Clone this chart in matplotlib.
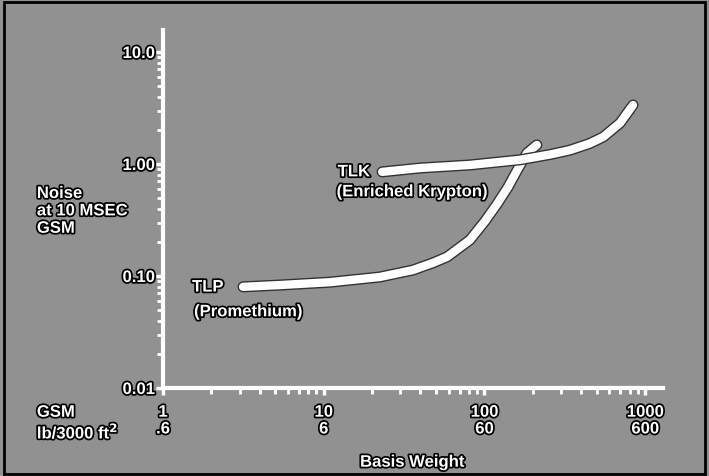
import matplotlib
matplotlib.use("Agg")
import matplotlib.pyplot as plt
import matplotlib.patheffects as pe

# TLP (Promethium) curve
tlp_x = [3.15, 5.35, 10.9, 22.4, 35.9, 47.9, 58.5, 81.3, 101, 120, 140, 160, 184, 212]
tlp_y = [0.080, 0.083, 0.088, 0.098, 0.113, 0.131, 0.148, 0.21, 0.31, 0.44, 0.62, 0.88, 1.25, 1.48]

# TLK (Enriched Krypton) curve
tlk_x = [23.1, 39.7, 81.4, 167, 260, 341, 450, 548, 698, 841]
tlk_y = [0.85, 0.92, 0.98, 1.09, 1.22, 1.33, 1.52, 1.74, 2.32, 3.36]

y_ticks = [0.01, 0.1, 1.0, 10.0]
y_labels = ["0.01", "0.10", "1.00", "10.0"]
x_ticks = [1, 10, 100, 1000]
x_labels = ["1\n.6", "10\n6", "100\n60", "1000\n600"]

bg = "#919191"
outline = [pe.withStroke(linewidth=2.5, foreground="black")]

plt.rcParams['font.family'] = ['Liberation Sans', 'DejaVu Sans']
plt.rcParams['font.weight'] = 'bold'

fig = plt.figure(figsize=(7.09, 4.76), dpi=100, facecolor=bg)
fig.patches.append(plt.Rectangle((0.005, 0.005), 0.99, 0.99, transform=fig.transFigure,
                                 fill=False, edgecolor="black", linewidth=2))
ax = fig.add_axes([0.2299, 0.1849, 0.7052, 0.752], facecolor=bg)

ax.set_xscale("log")
ax.set_yscale("log")
ax.set_xlim(1, 1292)
ax.set_ylim(0.01, 15.7)

# curves: white with a thin dark edge
for xs, ys in [(tlp_x, tlp_y), (tlk_x, tlk_y)]:
    ax.plot(xs, ys, color="white", lw=6, solid_capstyle="round", solid_joinstyle="round",
            path_effects=[pe.Stroke(linewidth=8, foreground="#333333"), pe.Normal()])

for s in ["top", "right"]:
    ax.spines[s].set_visible(False)
for s in ["left", "bottom"]:
    ax.spines[s].set_color("white")
    ax.spines[s].set_linewidth(3)

ax.set_yticks(y_ticks)
ax.set_yticklabels(y_labels)
ax.set_xticks(x_ticks)
ax.set_xticklabels(x_labels, linespacing=1.15)
ax.tick_params(which="major", direction="out", length=5, width=2.5, colors="white",
               labelsize=12, pad=1)
ax.tick_params(which="minor", direction="out", length=4, width=2, colors="white")
ax.tick_params(axis="x", which="major", pad=7)
for lab in ax.get_xticklabels() + ax.get_yticklabels():
    lab.set_path_effects(outline)
    lab.set_fontweight("bold")

txt = dict(color="white", fontsize=12, fontweight="bold", path_effects=outline)
fig.text(0.499, 0.639, "TLK", ha="center", va="center", **txt)
fig.text(0.581, 0.597, "(Enriched Krypton)", ha="center", va="center", **txt)
fig.text(0.293, 0.397, "TLP", ha="center", va="center", **txt)
fig.text(0.350, 0.345, "(Promethium)", ha="center", va="center", **txt)

fig.text(0.052, 0.557, "Noise\nat 10 MSEC\nGSM", ha="left", va="center", linespacing=1.2, **txt)
fig.text(0.052, 0.111, "GSM\nlb/3000 ft$^2$", ha="left", va="center", linespacing=1.1, **txt)
fig.text(0.581, 0.029, "Basis Weight", ha="center", va="center", **txt)

fig.savefig("out.png", dpi=100, facecolor=bg)
